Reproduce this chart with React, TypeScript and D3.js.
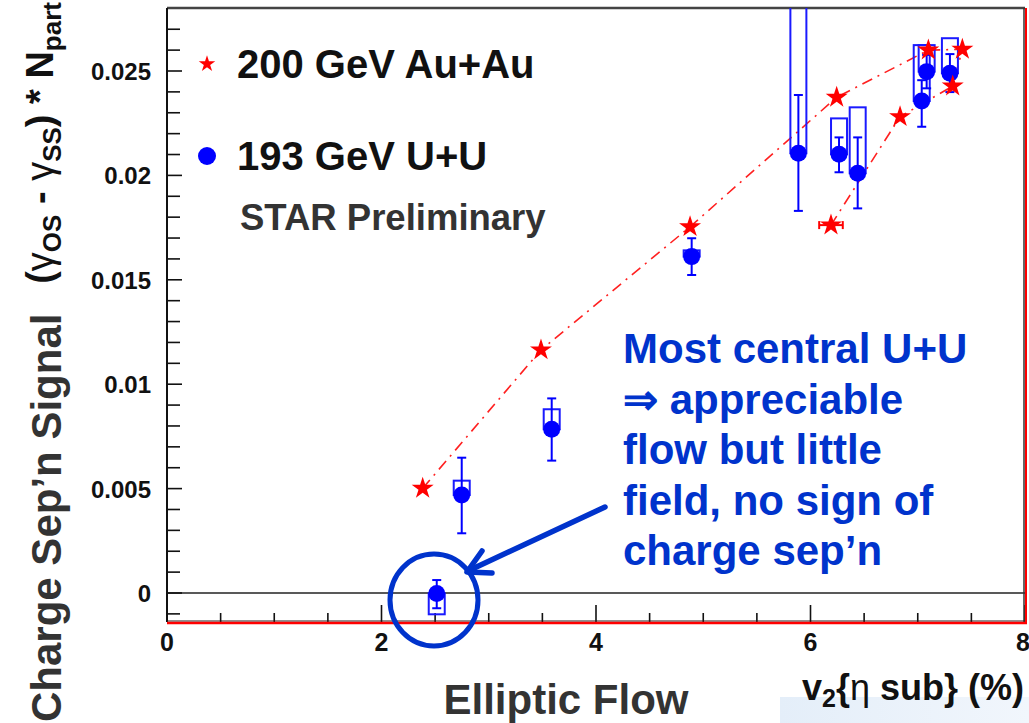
import React, { useEffect, useRef } from 'react';
import * as d3 from 'd3';

// 200 GeV Au+Au (red stars), in centrality order
const auV2 = [2.384, 3.487, 4.877, 6.244, 7.099, 7.416, 7.326, 6.835, 6.191];
const auSignal = [0.00501, 0.01164, 0.01754, 0.02374, 0.026, 0.02604, 0.02428, 0.02281, 0.01762];
const auV2Err = [0, 0, 0, 0, 0, 0, 0, 0, 0.11];

// 193 GeV U+U (blue circles)
const uuV2 = [2.515, 2.748, 3.587, 4.892, 5.887, 6.266, 6.44, 7.037, 7.083, 7.3];
const uuSignal = [-0.00002, 0.00469, 0.00784, 0.01611, 0.02106, 0.02101, 0.0201, 0.02356, 0.02497, 0.02489];
const uuStatLo = [0.00071, 0.00183, 0.0015, 0.00088, 0.00276, 0.00086, 0.00168, 0.00123, 0.0008, 0.0009];
const uuStatHi = [0.00064, 0.00179, 0.00148, 0.00088, 0.00279, 0.00081, 0.00172, 0.001, 0.0008, 0.00092];
const uuSysLo = [0.001, 0, 0, 0, 0, 0, 0, 0, 0, 0];
const uuSysHi = [0, 0.00069, 0.00096, 0.0003, 0.0075, 0.00172, 0.00316, 0.00268, 0.00127, 0.00168];

// axes
const xTickLabels = ['0', '2', '4', '6', '8'];
const xMajor = [0, 2, 4, 6, 8];
const xMinor = [0.5, 1, 1.5, 2.5, 3, 3.5, 4.5, 5, 5.5, 6.5, 7, 7.5];
const yTickLabels = ['0', '0.005', '0.01', '0.015', '0.02', '0.025'];
const yMajor = [0, 0.005, 0.01, 0.015, 0.02, 0.025];
const yMinor = [-0.001, 0.001, 0.002, 0.003, 0.004, 0.006, 0.007, 0.008, 0.009, 0.011, 0.012, 0.013,
  0.014, 0.016, 0.017, 0.018, 0.019, 0.021, 0.022, 0.023, 0.024, 0.026, 0.027];

const legendLabels = ['200 GeV Au+Au', '193 GeV U+U'];
const noteLines = ['Most central U+U', '\u21D2 appreciable', 'flow but little', 'field, no sign of', 'charge sep\u2019n'];

const FONT = '"Liberation Sans", Arial, Helvetica, sans-serif';
const NOTE_BLUE = '#0033cc';

const App = () => {
  const svgRef = useRef<SVGSVGElement>(null);

  useEffect(() => {
    if (!svgRef.current) return;
    const width = 1029;
    const height = 723;
    const svg = d3.select(svgRef.current);
    svg.selectAll('*').remove();

    const left = 167, right = 1025, top = 8, bottom = 622;
    const x = d3.scaleLinear().domain([0, 8]).range([left, right]);
    const y = d3.scaleLinear().domain([0, 0.025]).range([593, 71]);

    svg.append('rect').attr('width', width).attr('height', height).attr('fill', '#fff');

    // slide background band, bottom right
    const grad = svg.append('defs').append('linearGradient').attr('id', 'band').attr('x1', 0).attr('x2', 1);
    grad.append('stop').attr('offset', 0).attr('stop-color', '#e4eef9');
    grad.append('stop').attr('offset', 1).attr('stop-color', '#f1f6fc');
    svg.append('rect').attr('x', 780).attr('y', 697).attr('width', 249).attr('height', 26).attr('fill', 'url(#band)');

    svg.select('defs').append('clipPath').attr('id', 'plot')
      .append('rect').attr('x', left).attr('y', top).attr('width', right - left).attr('height', bottom - top);

    // zero line
    svg.append('line').attr('x1', left).attr('x2', right).attr('y1', y(0)).attr('y2', y(0))
      .attr('stroke', '#222').attr('stroke-width', 1.5);

    // ticks
    const tk = svg.append('g').attr('stroke', '#111').attr('stroke-width', 1.6);
    xMajor.forEach(v => tk.append('line').attr('x1', x(v)).attr('x2', x(v)).attr('y1', bottom).attr('y2', bottom - 17));
    xMinor.forEach(v => tk.append('line').attr('x1', x(v)).attr('x2', x(v)).attr('y1', bottom).attr('y2', bottom - 9));
    yMajor.forEach(v => tk.append('line').attr('x1', left).attr('x2', left + 15).attr('y1', y(v)).attr('y2', y(v)));
    yMinor.forEach(v => tk.append('line').attr('x1', left).attr('x2', left + 13).attr('y1', y(v)).attr('y2', y(v)));

    // frame
    svg.append('line').attr('x1', left).attr('x2', right).attr('y1', top).attr('y2', top)
      .attr('stroke', '#444').attr('stroke-width', 2.5);
    svg.append('line').attr('x1', left).attr('x2', left).attr('y1', top).attr('y2', bottom)
      .attr('stroke', '#111').attr('stroke-width', 2);
    svg.append('line').attr('x1', right - 1).attr('x2', right - 1).attr('y1', top).attr('y2', bottom)
      .attr('stroke', '#333').attr('stroke-width', 1.5);
    svg.append('line').attr('x1', right + 1).attr('x2', right + 1).attr('y1', top).attr('y2', bottom + 1)
      .attr('stroke', '#ff0000').attr('stroke-width', 2);
    svg.append('line').attr('x1', left).attr('x2', right).attr('y1', bottom - 1).attr('y2', bottom - 1)
      .attr('stroke', '#222').attr('stroke-width', 1);
    svg.append('line').attr('x1', left).attr('x2', right + 2).attr('y1', bottom + 1).attr('y2', bottom + 1)
      .attr('stroke', '#ff0000').attr('stroke-width', 2.5);

    // tick labels
    xMajor.forEach((v, i) => svg.append('text').attr('x', i === xMajor.length - 1 ? x(v) - 2 : x(v)).attr('y', 651)
      .attr('text-anchor', 'middle').attr('font-family', FONT).attr('font-weight', 700)
      .attr('font-size', 25).attr('fill', '#111').text(xTickLabels[i]));
    yMajor.forEach((v, i) => svg.append('text').attr('x', 151).attr('y', y(v) + 9)
      .attr('text-anchor', 'end').attr('font-family', FONT).attr('font-weight', 700)
      .attr('font-size', 24).attr('fill', '#111').text(yTickLabels[i]));

    const plot = svg.append('g').attr('clip-path', 'url(#plot)');

    // Au+Au dashed curve
    const auPts = auV2.map((v, i) => [x(v), y(auSignal[i])] as [number, number]);
    plot.append('path').attr('d', d3.line()(auPts)).attr('fill', 'none')
      .attr('stroke', '#ff2020').attr('stroke-width', 1.6).attr('stroke-dasharray', '11,6,2,6');

    // U+U systematic boxes
    const boxHalf = 8;
    uuV2.forEach((v, i) => {
      if (uuSysLo[i] === 0 && uuSysHi[i] === 0) return;
      const y0 = y(uuSignal[i] + uuSysHi[i]);
      const y1 = y(uuSignal[i] - uuSysLo[i]);
      plot.append('rect').attr('x', x(v) - boxHalf).attr('y', y0)
        .attr('width', boxHalf * 2).attr('height', Math.max(1, y1 - y0))
        .attr('fill', 'none').attr('stroke', '#1a1aff').attr('stroke-width', 2);
    });

    // U+U stat errors
    const cap = 4.5;
    uuV2.forEach((v, i) => {
      const cx = x(v);
      const yHi = y(uuSignal[i] + uuStatHi[i]);
      const yLo = y(uuSignal[i] - uuStatLo[i]);
      const g = plot.append('g').attr('stroke', '#0000ff').attr('stroke-width', 2);
      g.append('line').attr('x1', cx).attr('x2', cx).attr('y1', yHi).attr('y2', yLo);
      g.append('line').attr('x1', cx - cap).attr('x2', cx + cap).attr('y1', yHi).attr('y2', yHi);
      g.append('line').attr('x1', cx - cap).attr('x2', cx + cap).attr('y1', yLo).attr('y2', yLo);
    });

    // U+U markers
    plot.selectAll('circle.uu').data(uuV2).enter().append('circle')
      .attr('cx', d => x(d)).attr('cy', (d, i) => y(uuSignal[i])).attr('r', 8.5)
      .attr('fill', '#0000ff');

    // Au+Au markers
    const star = d3.symbol().type(d3.symbolStar).size(150);
    auV2.forEach((v, i) => {
      if (auV2Err[i] > 0) {
        const g = plot.append('g').attr('stroke', '#ff0000').attr('stroke-width', 2);
        const yy = y(auSignal[i]);
        g.append('line').attr('x1', x(v - auV2Err[i])).attr('x2', x(v + auV2Err[i])).attr('y1', yy).attr('y2', yy);
        g.append('line').attr('x1', x(v - auV2Err[i])).attr('x2', x(v - auV2Err[i])).attr('y1', yy - 4).attr('y2', yy + 4);
        g.append('line').attr('x1', x(v + auV2Err[i])).attr('x2', x(v + auV2Err[i])).attr('y1', yy - 4).attr('y2', yy + 4);
      }
      plot.append('path').attr('d', star())
        .attr('transform', `translate(${x(v)},${y(auSignal[i])})`)
        .attr('fill', '#ff0000');
    });

    // legend
    svg.append('path').attr('d', d3.symbol().type(d3.symbolStar).size(85)())
      .attr('transform', 'translate(207,64)').attr('fill', '#ff0000');
    svg.append('circle').attr('cx', 207).attr('cy', 156).attr('r', 9).attr('fill', '#0000ff');
    [78, 170].forEach((by, i) => svg.append('text').attr('x', 237).attr('y', by)
      .attr('font-family', FONT).attr('font-weight', 700).attr('font-size', 40)
      .attr('fill', '#111').text(legendLabels[i]));
    svg.append('text').attr('x', 240).attr('y', 230)
      .attr('font-family', FONT).attr('font-weight', 700).attr('font-size', 36.5)
      .attr('fill', '#333').text('STAR Preliminary');

    // ROOT y-axis title
    const yt = svg.append('text').attr('transform', 'translate(53,2) rotate(-90)')
      .attr('text-anchor', 'end').attr('font-family', FONT).attr('font-weight', 700)
      .attr('font-size', 38).attr('fill', '#111');
    yt.append('tspan').text('(');
    yt.append('tspan').attr('font-weight', 400).text('\u03B3');
    yt.append('tspan').attr('font-size', 26).attr('dy', 8).text('OS');
    yt.append('tspan').attr('dy', -8).text(' - ');
    yt.append('tspan').attr('font-weight', 400).text('\u03B3');
    yt.append('tspan').attr('font-size', 26).attr('dy', 8).text('SS');
    yt.append('tspan').attr('dy', -8).text(') * N');
    yt.append('tspan').attr('font-size', 26).attr('dy', 8).text('part');

    // slide y title (white backing hides the bracket, as on the slide)
    svg.append('rect').attr('x', 0).attr('y', 284).attr('width', 80).attr('height', 439).attr('fill', '#fff');
    svg.append('text').attr('transform', 'translate(61,722) rotate(-90)')
      .attr('font-family', FONT).attr('font-weight', 700).attr('font-size', 42)
      .attr('fill', '#333').text('Charge Sep\u2019n Signal');

    // x titles
    svg.append('text').attr('x', 566).attr('y', 714).attr('text-anchor', 'middle')
      .attr('font-family', FONT).attr('font-weight', 700).attr('font-size', 42)
      .attr('fill', '#333').text('Elliptic Flow');
    const xt = svg.append('text').attr('x', 1024).attr('y', 700).attr('text-anchor', 'end')
      .attr('font-family', FONT).attr('font-weight', 700).attr('font-size', 36).attr('fill', '#111');
    xt.append('tspan').text('v');
    xt.append('tspan').attr('font-size', 25).attr('dy', 7).text('2');
    xt.append('tspan').attr('dy', -7).text('{');
    xt.append('tspan').attr('font-weight', 400).text('\u03B7');
    xt.append('tspan').text(' sub} (%)');

    // annotation
    noteLines.forEach((t, i) => svg.append('text').attr('x', 623).attr('y', 363 + i * 50.6)
      .attr('font-family', FONT).attr('font-weight', 700).attr('font-size', 42)
      .attr('fill', NOTE_BLUE).text(t));
    svg.append('ellipse').attr('cx', 434).attr('cy', 600).attr('rx', 44).attr('ry', 46)
      .attr('fill', 'none').attr('stroke', NOTE_BLUE).attr('stroke-width', 5);
    svg.append('line').attr('x1', 605).attr('y1', 507).attr('x2', 470).attr('y2', 570)
      .attr('stroke', NOTE_BLUE).attr('stroke-width', 5.5).attr('stroke-linecap', 'round');
    svg.append('path').attr('d', 'M482,551 L467,572 L492,573')
      .attr('fill', 'none').attr('stroke', NOTE_BLUE).attr('stroke-width', 5.5)
      .attr('stroke-linecap', 'round').attr('stroke-linejoin', 'round');
  }, []);

  return (
    <svg
      ref={svgRef}
      width={1029}
      height={723}
      viewBox="0 0 1029 723"
      style={{ position: 'absolute', left: 0, top: 0, display: 'block' }}
    />
  );
};

export default App;
